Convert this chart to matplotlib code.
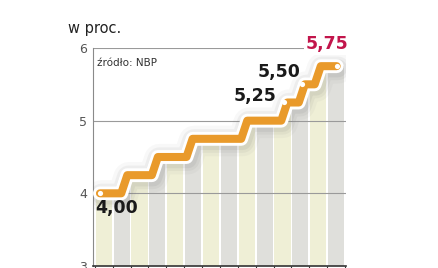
import matplotlib
matplotlib.use('Agg')
import matplotlib.pyplot as plt
from matplotlib.patches import Polygon

# stopa referencyjna NBP, w proc.
levels = [4.00, 4.25, 4.50, 4.75, 5.00, 5.25, 5.50, 5.75]
# positions (in bar units) where the rate changed
change_x = [1.65, 3.36, 5.3, 8.36, 10.6, 11.58, 12.47]
start_x = 0.29
end_x = 13.53
n_bars = 14

labels = ['4,00', '5,25', '5,50', '5,75']
label_levels = [4.00, 5.25, 5.50, 5.75]
label_x = [start_x, 10.6, 11.58, end_x]
label_colors = ['#1a1a1a', '#1a1a1a', '#1a1a1a', '#c2154b']
label_offsets = [(-5, -15, 'left'), (-8, 6, 'right'), (-1, 12, 'right'), (-10, 22, 'center')]

orange = '#e99a2b'
bar_colors = ['#efefd6', '#dfdfdb']

fig = plt.figure(figsize=(4.39, 2.68), dpi=100)
ax = fig.add_axes([0.2118, 0.0075, 0.5763, 0.8134])
ax.set_xlim(-0.1, 14.05)
ax.set_ylim(3, 6)

# build the staircase
xs = [start_x]
ys = [levels[0]]
slant = 0.17
for i, cx in enumerate(change_x):
    xs += [cx - slant, cx + slant]
    ys += [levels[i], levels[i + 1]]
xs.append(end_x)
ys.append(levels[-1])

# bars, clipped under the staircase
clip_xy = [(-0.1, 3), (-0.1, levels[0])] + list(zip(xs, ys)) + [(14.05, levels[-1]), (14.05, 3)]
clip = Polygon(clip_xy, closed=True, transform=ax.transData, facecolor='none', edgecolor='none')
ax.add_patch(clip)
bars = ax.bar([i + 0.5 for i in range(n_bars)], [6] * n_bars, width=0.9, bottom=0,
              color=[bar_colors[i % 2] for i in range(n_bars)], zorder=1)
for b in bars:
    b.set_clip_path(clip)

for y in [4, 5, 6]:
    ax.axhline(y, color='#9a9a9a', lw=0.8, zorder=2)

# shadow + white outline + orange line
for w, a in [(22, 0.05), (17, 0.08), (13, 0.1)]:
    ax.plot([x + 0.08 for x in xs], [y - 0.03 for y in ys], color='#777777', lw=w, alpha=a,
            solid_capstyle='round', solid_joinstyle='round', zorder=3)
ax.plot(xs, ys, color='white', lw=10, solid_capstyle='round', solid_joinstyle='round', zorder=4)
ax.plot(xs, ys, color=orange, lw=5.8, solid_capstyle='round', solid_joinstyle='round', zorder=5)
ax.scatter(label_x, label_levels, s=14, color='white', zorder=6, linewidths=0)

for txt, lx, ly, c, (dx, dy, ha) in zip(labels, label_x, label_levels, label_colors, label_offsets):
    bbox = dict(facecolor='white', edgecolor='none', pad=1) if c != '#1a1a1a' else None
    ax.annotate(txt, (lx, ly), xytext=(dx, dy), textcoords='offset pixels', ha=ha, va='center',
                fontsize=12.5, fontweight='bold', color=c, zorder=7, bbox=bbox)

ax.text(0.1, 5.8, 'źródło: NBP', fontsize=7.5, color='#333333', va='center', ha='left', zorder=7)
fig.text(68 / 439, 1 - 29 / 268, 'w proc.', fontsize=10.5, color='#222222', va='center', ha='left')

ax.set_yticks([3, 4, 5, 6])
ax.set_yticklabels(['3', '4', '5', '6'])
ax.tick_params(axis='y', length=0, pad=4, labelsize=9, labelcolor='#555555')
ax.set_xticks(range(n_bars + 1))
ax.set_xticklabels([])
ax.tick_params(axis='x', length=2, color='#333333')
for s in ['top', 'right']:
    ax.spines[s].set_visible(False)
ax.spines['left'].set_color('#8a8a8a')
ax.spines['left'].set_linewidth(0.8)
ax.spines['bottom'].set_color('#333333')
ax.spines['bottom'].set_linewidth(1.2)

fig.savefig('out.png', dpi=100)
